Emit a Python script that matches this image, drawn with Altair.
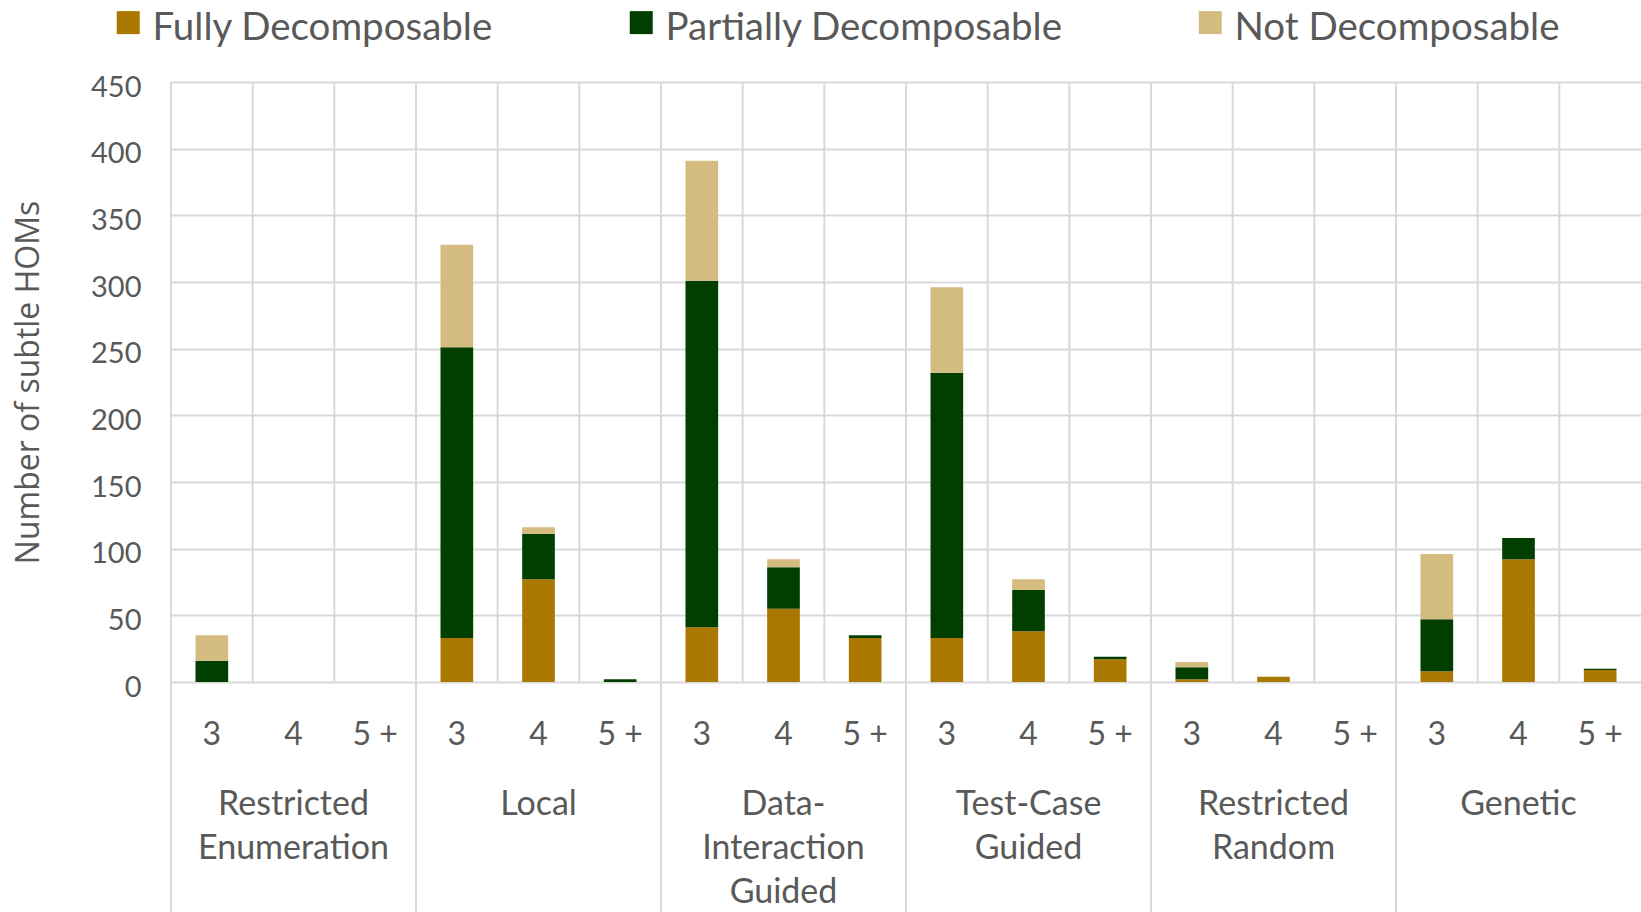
import altair as alt
import pandas as pd

# Mutation-generation strategies and HOM order buckets
groups = ["Restricted Enumeration", "Local", "Data-Interaction Guided",
          "Test-Case Guided", "Restricted Random", "Genetic"]
group_lines = ["Restricted\nEnumeration", "Local", "Data-\nInteraction\nGuided",
               "Test-Case\nGuided", "Restricted\nRandom", "Genetic"]
orders = ["3", "4", "5 +"]

series = ["Fully Decomposable", "Partially Decomposable", "Not Decomposable"]
colors = ["#AA7800", "#003F00", "#D4BB80"]

# counts per (strategy, order), in the order of groups x orders
fully = [0, 0, 0, 33, 77, 0, 41, 55, 33, 33, 38, 17, 2, 4, 0, 8, 92, 9]
partial = [16, 0, 0, 218, 34, 2, 260, 31, 2, 199, 31, 2, 9, 0, 0, 39, 16, 1]
not_dec = [19, 0, 0, 77, 5, 0, 90, 6, 0, 64, 8, 0, 4, 0, 0, 49, 0, 0]

y_ticks = list(range(0, 451, 50))

keys = [f"{g}|{o}" for g in groups for o in orders]

rows = []
for i, k in enumerate(keys):
    for rank, (name, vals) in enumerate(zip(series, [fully, partial, not_dec])):
        rows.append({"key": k, "series": name, "rank": rank, "count": vals[i]})
bars_df = pd.DataFrame(rows)

cols_df = pd.DataFrame({"key": keys})
group_start_df = pd.DataFrame({"key": [f"{g}|{orders[0]}" for g in groups]})
labels_df = pd.DataFrame({"key": [f"{g}|{orders[1]}" for g in groups],
                          "text": group_lines})

W, H = 1470, 600
BOTTOM = 230
TEXT = "#595959"
GRID = "#D9D9D9"

xscale = alt.Scale(type="band", paddingInner=0, paddingOuter=0)
x_axis = alt.Axis(title=None, labelExpr="split(datum.value, '|')[1]",
                  labelAngle=0, labelFont="Lato", labelFontSize=32,
                  labelColor=TEXT, labelPadding=37, labelBaseline="top",
                  ticks=False, tickSize=0, domain=False, grid=False)


def xenc(**kw):
    return alt.X("key:N", sort=keys, scale=xscale, axis=x_axis, **kw)


y_axis = alt.Axis(title="Number of subtle HOMs", values=y_ticks,
                  labelFont="Lato", labelFontSize=29, labelColor=TEXT,
                  labelPadding=30, labelBaseline="alphabetic", labelOffset=14,
                  labelFlush=False, labelOverlap=False,
                  ticks=False, tickSize=0, domain=False,
                  grid=True, gridColor=GRID, gridWidth=2,
                  titleFont="Open Sans", titleFontSize=32, titleFontWeight="normal",
                  titleColor=TEXT, titleAngle=270, titleAlign="center",
                  titleBaseline="alphabetic", titleX=-133, titleY=H / 2)

# square legend swatch, lifted a little above the label's centre line
swatch = "M-1,-1.5L1,-1.5L1,0.5L-1,0.5Z"

legend = alt.Legend(title=None, orient="none", direction="horizontal",
                    legendX=-62, legendY=-73, padding=0,
                    symbolType=swatch, symbolSize=529, symbolStrokeWidth=0,
                    labelFont="Lato", labelFontSize=38.5, labelColor=TEXT,
                    labelOffset=5, labelLimit=800, columnPadding=128)

# vertical gridlines at the left edge of every column
col_grid = alt.Chart(cols_df).mark_rule(color=GRID, strokeWidth=2).encode(
    x=xenc(bandPosition=0), y=alt.value(0), y2=alt.value(H))

# strategy separators running below the axis
group_sep = alt.Chart(group_start_df).mark_rule(color=GRID, strokeWidth=2).encode(
    x=xenc(bandPosition=0), y=alt.value(H), y2=alt.value(H + BOTTOM))

bars = alt.Chart(bars_df).mark_bar(width=alt.RelativeBandSize(0.4)).encode(
    x=xenc(),
    y=alt.Y("count:Q", stack="zero",
            scale=alt.Scale(domain=[0, 450], nice=False), axis=y_axis),
    color=alt.Color("series:N", sort=series,
                    scale=alt.Scale(domain=series, range=colors), legend=legend),
    order=alt.Order("rank:Q", sort="ascending"),
)

group_text = alt.Chart(labels_df).mark_text(
    lineBreak="\n", baseline="alphabetic", align="center", font="Lato",
    fontSize=34, lineHeight=44, color=TEXT).encode(
    x=xenc(), y=alt.value(733), text="text:N")

chart = alt.layer(col_grid, group_sep, bars, group_text).properties(
    width=W, height=H,
    autosize=alt.AutoSizeParams(type="none"),
    padding={"left": 171, "top": 82, "right": 0, "bottom": BOTTOM},
    background="white",
).configure_view(stroke=None)

chart.save("out.html", embed_options={"renderer": "svg", "actions": False})
